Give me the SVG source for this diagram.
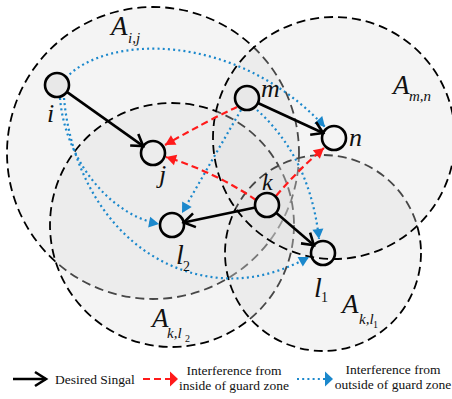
<svg xmlns="http://www.w3.org/2000/svg" width="452" height="399" viewBox="0 0 452 399">
<style>
.reg{fill:#dcdcdc;fill-opacity:0.32;stroke:#000;stroke-width:1.8;stroke-dasharray:9 5}
.des{fill:none;stroke:#000;stroke-width:2.6;marker-end:url(#chev)}
.red{fill:none;stroke:#ff1a1a;stroke-width:2.2;stroke-dasharray:7 4;marker-end:url(#rtri)}
.blu{fill:none;stroke:#1b88cc;stroke-width:2.2;stroke-dasharray:2 3.2;marker-end:url(#btri)}
.tx{fill:#e8e8e8;stroke:#000;stroke-width:2.6}
.rx{fill:none;stroke:#000;stroke-width:2.6}
</style>
<defs>
<marker id="chev" viewBox="-13 -9 15 18" refX="0" refY="0" markerWidth="15" markerHeight="18" markerUnits="userSpaceOnUse" orient="auto" overflow="visible">
<path d="M-11,-7 L0,0 L-11,7" fill="none" stroke="#000" stroke-width="2.6"/>
</marker>
<marker id="rtri" viewBox="-10 -6 10 12" refX="0" refY="0" markerWidth="10" markerHeight="12" markerUnits="userSpaceOnUse" orient="auto" overflow="visible">
<path d="M-10,-5.5 L0,0 L-10,5.5 Z" fill="#ff1a1a"/>
</marker>
<marker id="btri" viewBox="-10 -6 10 12" refX="0" refY="0" markerWidth="10" markerHeight="12" markerUnits="userSpaceOnUse" orient="auto" overflow="visible">
<path d="M-10,-5.5 L0,0 L-10,5.5 Z" fill="#1b88cc"/>
</marker>
</defs>
<rect width="452" height="399" fill="#fff"/>
<g id="regions">
<g id="A_ij"><circle class="reg" cx="153" cy="153" r="146"/></g>
<g id="A_kl2"><circle class="reg" cx="172" cy="225" r="122"/></g>
<g id="A_kl1"><circle class="reg" cx="323" cy="253" r="98"/></g>
<g id="A_mn"><circle class="reg" cx="334" cy="138" r="121"/></g>
</g>
<g id="connectors">
<path class="blu" d="M66,78 C105,35 235,30 325,127"/>
<path class="blu" d="M60,98 C65,160 110,215 159,224"/>
<path class="blu" d="M64,98 C72,190 130,270 220,278 C255,281 285,270 309,257"/>
<path class="blu" d="M241,110 Q212,160 182,213"/>
<path class="blu" d="M257,110 C285,135 312,175 319,239"/>
<path class="red" d="M237,107 Q205,122 165,145"/>
<path class="red" d="M256,200 Q215,172 166,157"/>
<path class="red" d="M276,196 Q300,168 324,148"/>
<path class="des" d="M66.8,91.9 L143.2,146.1"/>
<path class="des" d="M257.9,103 L323.1,133"/>
<path class="des" d="M255.3,207.5 L183.7,222.5"/>
<path class="des" d="M276.1,212.8 L313.9,245.2"/>
</g>
<g font-family="Liberation Serif, serif" font-style="italic" fill="#111">
<g id="node-i"><circle class="tx" cx="57" cy="85" r="12"/><text x="47" y="122" font-size="26">i</text></g>
<g id="node-j"><circle class="rx" cx="153" cy="153" r="12"/><text x="159" y="183" font-size="26">j</text></g>
<g id="node-m"><circle class="tx" cx="247" cy="98" r="12"/><text x="261" y="97" font-size="26">m</text></g>
<g id="node-n"><circle class="rx" cx="334" cy="138" r="12"/><text x="349" y="146" font-size="26">n</text></g>
<g id="node-k"><circle class="tx" cx="267" cy="205" r="12"/><text x="262" y="190" font-size="24">k</text></g>
<g id="node-l2"><circle class="rx" cx="172" cy="225" r="12"/><text x="176" y="264" font-size="28">l</text><text x="183" y="271" font-size="14" font-style="normal">2</text></g>
<g id="node-l1"><circle class="rx" cx="323" cy="253" r="12"/><text x="314" y="297" font-size="28">l</text><text x="321" y="302" font-size="14" font-style="normal">1</text></g>
<g id="labels">
<text x="111" y="35" font-size="27">A</text><text x="128" y="43" font-size="15">i,j</text>
<text x="393" y="94" font-size="27">A</text><text x="409" y="101" font-size="15">m,n</text>
<text x="152" y="327" font-size="27">A</text><text x="167" y="338" font-size="15">k,l</text><text x="185" y="342" font-size="10" font-style="normal">2</text>
<text x="342" y="313" font-size="27">A</text><text x="359" y="324" font-size="15">k,l</text><text x="373" y="328" font-size="10" font-style="normal">1</text>
</g>
</g>
<g id="legend" font-family="Liberation Serif, serif" font-size="13.5" fill="#111">
<path d="M13,379 L46,379" fill="none" stroke="#000" stroke-width="2.6" marker-end="url(#chev)"/>
<text x="55" y="384">Desired Singal</text>
<path d="M143,379 L170,379" fill="none" stroke="#ff1a1a" stroke-width="2.2" stroke-dasharray="7 4"/>
<path d="M170,371.5 L178,379 L170,386.5 Z" fill="#ff1a1a"/>
<text x="234" y="375" text-anchor="middle">Interference from</text>
<text x="234" y="390" text-anchor="middle">inside of guard zone</text>
<path d="M297,379 L325,379" fill="none" stroke="#1b88cc" stroke-width="2.2" stroke-dasharray="2 3.2"/>
<path d="M325,371.5 L333,379 L325,386.5 Z" fill="#1b88cc"/>
<text x="393" y="374" text-anchor="middle">Interference from</text>
<text x="393" y="389" text-anchor="middle">outside of guard zone</text>
</g>
</svg>
